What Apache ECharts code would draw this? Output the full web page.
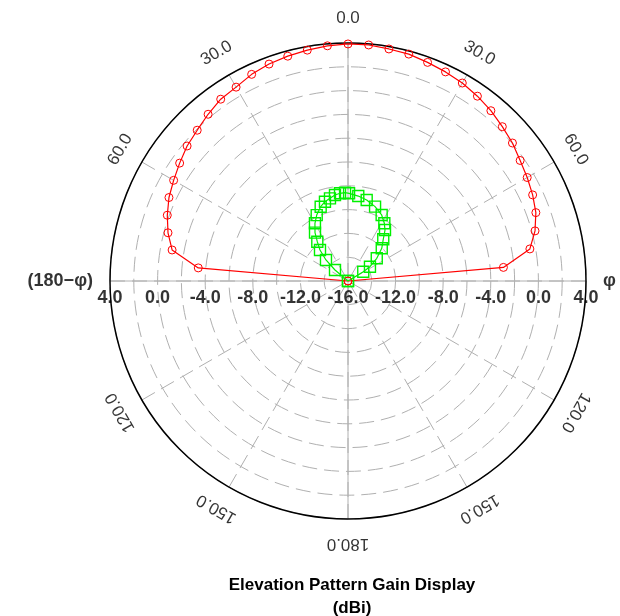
<!DOCTYPE html>
<html>
<head>
<meta charset="utf-8">
<title>Elevation Pattern Gain Display</title>
<script src="https://cdn.jsdelivr.net/npm/echarts@6/dist/echarts.min.js"></script>
<style>
  html, body { margin: 0; padding: 0; background: #fff; }
  #chart { width: 620px; height: 616px; }
</style>
</head>
<body>
<div id="chart"></div>
<script>
// Elevation angles (deg, negative = left half) and gains (dBi)
const redAngles = [-90, -85, -80, -75, -70, -65, -60, -55, -50, -45, -40, -35, -30, -25, -20, -15, -10, -5,
                   0, 5, 10, 15, 20, 25, 30, 35, 40, 45, 50, 55, 60, 65, 70, 75, 80, 85, 90];
const redGain = [-16.0, -3.37, -0.99, -0.34, 0.16, 0.60, 0.92, 1.27, 1.65, 1.92, 2.29, 2.65, 2.81, 3.16, 3.40, 3.56, 3.70, 3.84,
                 3.92, 3.91, 3.80, 3.74, 3.55, 3.39, 3.21, 2.96, 2.68, 2.34, 2.04, 1.66, 1.39, 1.12, 0.80, 0.27, -0.48, -2.89, -16.0];

const greenAngles = [-62, -49.8, -46.3, -42.1, -38.0, -34.3, -29.8, -25.4, -20.2, -16.2, -12.3, -8.6, -5.2, -1.9,
                     0.7, 6.9, 13.0, 20.0, 27.0, 32.2, 36.0, 40.2, 45.9, 51.7, 57.0, 58.7, 62];
const greenGain = [-16.0, -14.57, -13.44, -12.49, -11.81, -11.08, -10.41, -9.87, -9.35, -9.06, -8.89, -8.69, -8.60, -8.57,
                   -8.63, -8.81, -9.02, -9.35, -9.77, -10.27, -10.71, -11.41, -12.05, -12.92, -13.80, -14.50, -16.0];

// Radial scale ticks (dBi) and angular tick labels
const radialTicks = [4, 0, -4, -8, -12];
const radialCenterTick = -16;
const angleTickPos = [0, 30, 60, 120, 150, 180, 210, 240, 300, 330];
const angleTickText = ['0.0', '30.0', '60.0', '120.0', '150.0', '180.0', '150.0', '120.0', '60.0', '30.0'];
const sideLabels = ['φ', '(180−φ)'];

const R_MIN = -16, R_MAX = 4;
const FONT = "'Liberation Sans', Arial, sans-serif";
const CENTER = [348, 281];
const RADIUS = 238;        // plot circle
const LABEL_RADIUS = 263;  // ring carrying the angular labels
const SIDE_RADIUS = 255;   // ring carrying the φ labels

const toAxisAngle = a => (a + 360) % 360;
const pairs = (angles, gains) => angles.map((a, i) => [gains[i], toAxisAngle(a)]);

const angleLabelData = angleTickPos.map((a, i) => ({
  value: [1, a],
  label: { formatter: angleTickText[i], rotate: -a }
}));

const radialLabelData = [];
radialTicks.forEach(v => {
  radialLabelData.push({ value: [v, 270], label: { formatter: v.toFixed(1) } });
  radialLabelData.push({ value: [v, 90], label: { formatter: v.toFixed(1) } });
});
radialLabelData.push({ value: [radialCenterTick, 90], label: { formatter: radialCenterTick.toFixed(1) } });

// a hidden angle/radius axis pair for the label rings
const ringAngleAxis = idx => ({
  polarIndex: idx, type: 'value', min: 0, max: 360, startAngle: 90, clockwise: true,
  axisLine: { show: false }, axisTick: { show: false }, axisLabel: { show: false }, splitLine: { show: false }
});
const ringRadiusAxis = idx => ({
  polarIndex: idx, type: 'value', min: 0, max: 1,
  axisLine: { show: false }, axisTick: { show: false }, axisLabel: { show: false }, splitLine: { show: false }
});

const chart = echarts.init(document.getElementById('chart'), null, { renderer: 'canvas' });

chart.setOption({
  animation: false,
  backgroundColor: '#fff',
  title: {
    text: 'Elevation Pattern Gain Display\n(dBi)',
    left: 347,
    top: 569,
    textAlign: 'center',
    textStyle: { fontFamily: FONT, fontSize: 17, fontWeight: 'bold', color: '#000', lineHeight: 23 }
  },
  polar: [
    { center: CENTER, radius: RADIUS },
    { center: CENTER, radius: RADIUS },
    { center: CENTER, radius: LABEL_RADIUS },
    { center: CENTER, radius: SIDE_RADIUS }
  ],
  angleAxis: [
    {
      polarIndex: 0,
      type: 'value', min: 0, max: 360, interval: 30,
      startAngle: 90, clockwise: true,
      axisLine: { show: true, lineStyle: { color: '#000', width: 1.5 } },
      axisTick: { show: false },
      axisLabel: { show: false },
      splitLine: { show: true, lineStyle: { color: '#b0b0b0', width: 1, type: [15, 7] } }
    },
    {
      polarIndex: 1,
      type: 'value', min: 0, max: 360, interval: 90,
      startAngle: 90, clockwise: true,
      axisLine: { show: false },
      axisTick: { show: false },
      axisLabel: { show: false },
      splitLine: { show: true, lineStyle: { color: '#b0b0b0', width: 1, type: 'solid' } }
    },
    ringAngleAxis(2),
    ringAngleAxis(3)
  ],
  radiusAxis: [
    {
      polarIndex: 0,
      type: 'value', min: R_MIN, max: R_MAX, interval: 2,
      axisLine: { show: false },
      axisTick: { show: false },
      axisLabel: { show: false },
      splitLine: { show: true, lineStyle: { color: '#b0b0b0', width: 1, type: [15, 7] } }
    },
    {
      polarIndex: 1,
      type: 'value', min: R_MIN, max: R_MAX, interval: 4,
      axisLine: { show: false },
      axisTick: { show: false },
      axisLabel: { show: false },
      splitLine: { show: false }
    },
    ringRadiusAxis(2),
    ringRadiusAxis(3)
  ],
  series: [
    {
      name: 'Gain A',
      type: 'line',
      coordinateSystem: 'polar',
      polarIndex: 0,
      data: pairs(redAngles, redGain),
      symbol: 'circle',
      symbolSize: 8,
      showAllSymbol: true,
      lineStyle: { color: '#ff0000', width: 1.2 },
      itemStyle: { color: 'rgba(0,0,0,0)', borderColor: '#ff0000', borderWidth: 1 },
      z: 3
    },
    {
      name: 'Gain B',
      type: 'line',
      coordinateSystem: 'polar',
      polarIndex: 0,
      data: pairs(greenAngles, greenGain),
      symbol: 'rect',
      symbolSize: 11,
      showAllSymbol: true,
      lineStyle: { color: '#00f000', width: 1.2 },
      itemStyle: { color: 'rgba(0,0,0,0)', borderColor: '#00f000', borderWidth: 1.4 },
      z: 4
    },
    {
      name: 'angle labels',
      type: 'scatter',
      coordinateSystem: 'polar',
      polarIndex: 2,
      symbolSize: 0,
      silent: true,
      data: angleLabelData,
      label: {
        show: true, position: 'inside',
        fontFamily: FONT, fontSize: 17, color: '#000'
      },
      z: 5
    },
    {
      name: 'radial labels',
      type: 'scatter',
      coordinateSystem: 'polar',
      polarIndex: 0,
      symbolSize: 0,
      silent: true,
      data: radialLabelData,
      label: {
        show: true, position: 'bottom', distance: 8,
        fontFamily: FONT, fontSize: 18, fontWeight: 'bold', color: '#000'
      },
      z: 6
    },
    {
      name: 'side labels',
      type: 'scatter',
      coordinateSystem: 'polar',
      polarIndex: 3,
      symbolSize: 0,
      silent: true,
      data: [
        { value: [1, 90], label: { formatter: sideLabels[0], position: 'right', distance: 0 } },
        { value: [1, 270], label: { formatter: sideLabels[1], position: 'left', distance: 0 } }
      ],
      label: {
        show: true,
        fontFamily: FONT, fontSize: 18, fontWeight: 'bold', color: '#000'
      },
      z: 6
    }
  ]
});
</script>
</body>
</html>
